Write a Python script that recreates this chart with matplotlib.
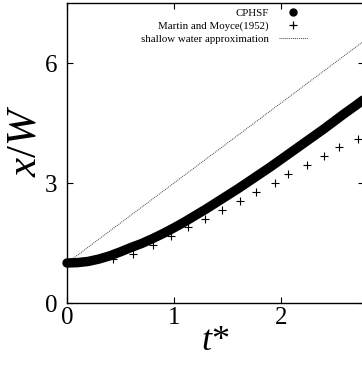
import matplotlib
matplotlib.use("Agg")
import matplotlib.pyplot as plt
from matplotlib.lines import Line2D

plt.rcParams['font.family'] = ['Liberation Serif', 'DejaVu Serif']
plt.rcParams['mathtext.fontset'] = 'custom'
plt.rcParams['mathtext.it'] = 'Liberation Serif:italic'
plt.rcParams['mathtext.rm'] = 'Liberation Serif'

# CPHSF front position
cphsf_t = [0.0, 0.1, 0.2, 0.3, 0.4, 0.5, 0.6, 0.7, 0.8, 0.9, 1.0, 1.1, 1.2, 1.3,
           1.4, 1.5, 1.6, 1.7, 1.8, 1.9, 2.0, 2.1, 2.2, 2.3, 2.4, 2.5, 2.6, 2.7, 2.8]
cphsf_x = [1.00, 1.01, 1.04, 1.10, 1.18, 1.28, 1.39, 1.49, 1.61, 1.74, 1.88, 2.03,
           2.19, 2.35, 2.52, 2.69, 2.86, 3.04, 3.22, 3.40, 3.59, 3.78, 3.97, 4.16,
           4.35, 4.55, 4.75, 4.94, 5.14]

# Martin and Moyce (1952) experiment
mm_t = [0.427, 0.62, 0.80, 0.972, 1.134, 1.293, 1.452, 1.62, 1.763, 1.94,
        2.07, 2.24, 2.40, 2.545, 2.717]
mm_x = [1.11, 1.22, 1.44, 1.67, 1.89, 2.11, 2.33, 2.56, 2.78, 3.00,
        3.22, 3.44, 3.67, 3.89, 4.11]

# Shallow water approximation x/W = 1 + 2 t*
sw_t = [0.0, 3.0]
sw_x = [1.0, 7.0]

xticks = [0, 1, 2]
yticks = [0, 3, 6]

W, H = 362, 367
fig = plt.figure(figsize=(W / 100, H / 100), dpi=100)
left, right, top, bottom = 67, 364, 3, 303
ax = fig.add_axes([left / W, (H - bottom) / H, (right - left) / W, (bottom - top) / H])

ax.plot(sw_t, sw_x, color='#444444', linewidth=0.7, linestyle=(0, (1, 1)))
ax.plot(cphsf_t, cphsf_x, color='black', linewidth=6.8, solid_capstyle='round',
        solid_joinstyle='round', clip_on=False, zorder=3)
ax.plot(mm_t, mm_x, linestyle='none', marker='+', color='black',
        markersize=5.5, markeredgewidth=0.8)

ax.set_xlim(0, (right - left) / 107.0)
ax.set_ylim(0, (bottom - top) / 40.0)
ax.set_xticks(xticks)
ax.set_yticks(yticks)
ax.tick_params(direction='in', length=4, width=0.8, top=True, right=True,
               labelsize=18)
ax.tick_params(axis='x', pad=3)
ax.tick_params(axis='y', pad=7)
for s in ax.spines.values():
    s.set_linewidth(1.0)

ax.set_xlabel('$t$*', fontsize=26, labelpad=-3)
ax.set_ylabel('$x/W$', fontsize=31, labelpad=0)
ax.yaxis.set_label_coords(-0.075, 0.54)

handles = [
    Line2D([], [], linestyle='none', marker='o', color='black', markersize=5),
    Line2D([], [], linestyle='none', marker='+', color='black', markersize=6,
           markeredgewidth=0.9),
    Line2D([], [], color='#444444', linewidth=0.7, linestyle=(0, (1, 1))),
]
labels = ['CPHSF', 'Martin and Moyce(1952)', 'shallow water approximation']
leg = ax.legend(handles, labels, loc='upper right', frameon=False, markerfirst=False,
                fontsize=7.8, handlelength=2.7, handletextpad=0.9, labelspacing=0.3,
                borderpad=0, borderaxespad=0,
                bbox_to_anchor=((308 - left) / (right - left), (bottom - 8) / (bottom - top)))
for t in leg.get_texts():
    t.set_ha('right')

fig.savefig('out.png', dpi=100)
